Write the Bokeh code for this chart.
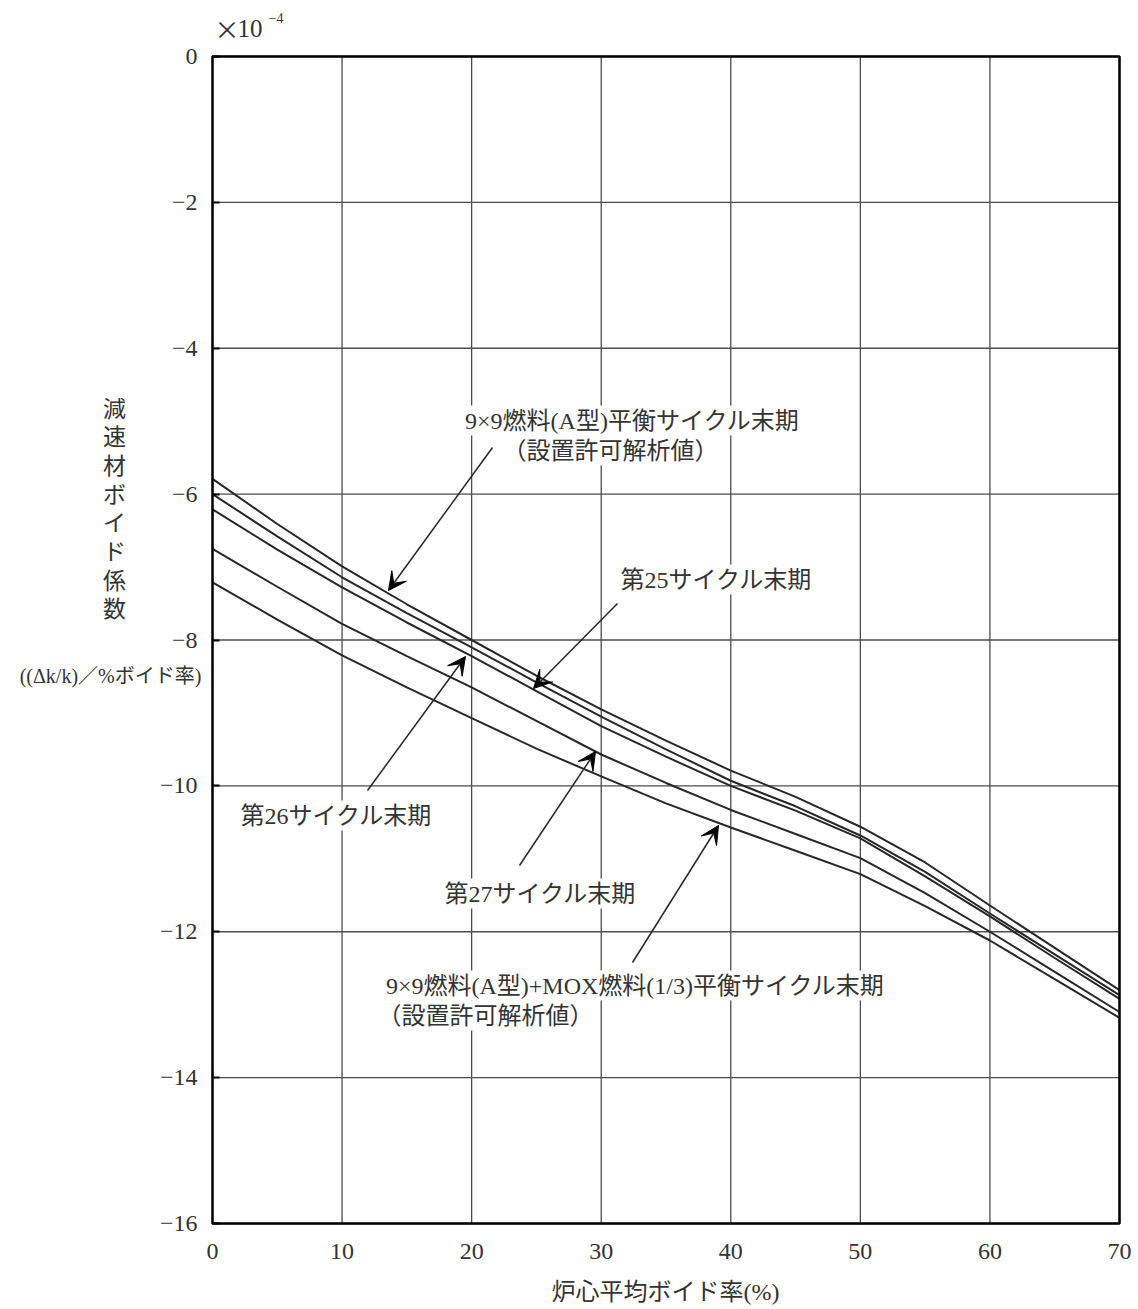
from bokeh.plotting import figure
from bokeh.models import Range1d, FixedTicker, Label, Arrow, VeeHead, LinearAxis
from bokeh.embed import file_html
from bokeh.resources import INLINE

# ---------------- data ----------------
void_pct = [0, 5, 10, 15, 20, 25, 30, 35, 40, 45, 50, 55, 60, 65, 70]
a_type_eq = [-5.79, -6.41, -6.99, -7.51, -8.00, -8.49, -8.95, -9.38, -9.79, -10.15, -10.56, -11.05, -11.64, -12.22, -12.80]
cycle25 = [-6.00, -6.58, -7.14, -7.63, -8.10, -8.58, -9.05, -9.50, -9.93, -10.28, -10.68, -11.18, -11.75, -12.31, -12.87]
cycle26 = [-6.21, -6.76, -7.28, -7.76, -8.22, -8.70, -9.18, -9.60, -10.00, -10.34, -10.72, -11.24, -11.79, -12.36, -12.92]
cycle27 = [-6.75, -7.27, -7.78, -8.22, -8.65, -9.11, -9.57, -9.96, -10.33, -10.66, -10.99, -11.47, -12.00, -12.55, -13.10]
mox_eq = [-7.21, -7.72, -8.21, -8.65, -9.07, -9.49, -9.87, -10.24, -10.57, -10.89, -11.21, -11.65, -12.12, -12.65, -13.18]
x_ticks = [0, 10, 20, 30, 40, 50, 60, 70]
y_ticks = [0, -2, -4, -6, -8, -10, -12, -14, -16]
y_tick_labels = ["0", "\u22122", "\u22124", "\u22126", "\u22128", "\u221210", "\u221212", "\u221214", "\u221216"]

SERIF = "Liberation Serif"
JP = "Noto Sans CJK JP"
MIX = "Liberation Serif, Noto Sans CJK JP"
TXT = "#333333"

# pixel geometry of the plotting box in the reference picture
PX_L, PX_R, PX_T, PX_B = 212, 1119, 56, 1223
W, H = 1138, 1309
x0, x1 = min(x_ticks), max(x_ticks)
y0, y1 = min(y_ticks), max(y_ticks)
sx = (PX_R - PX_L) / (x1 - x0)
sy = (PX_B - PX_T) / (y1 - y0)

def fx(px):
    return x0 + (px - PX_L) / sx

def fy(py):
    return y1 - (py - PX_T) / sy

p = figure(width=W, height=H, output_backend="svg", toolbar_location=None,
           x_range=Range1d(fx(0), fx(W)), y_range=Range1d(fy(H), fy(0)),
           x_axis_type=None, y_axis_type=None, min_border=0)
p.outline_line_color = None
p.xgrid.visible = False
p.ygrid.visible = False

# grid lines from tick lists
p.segment(x0=x_ticks, x1=x_ticks, y0=[y0] * len(x_ticks), y1=[y1] * len(x_ticks),
          line_color="#4d4d4d", line_width=1.3)
p.segment(x0=[x0] * len(y_ticks), x1=[x1] * len(y_ticks), y0=y_ticks, y1=y_ticks,
          line_color="#4d4d4d", line_width=1.3)

# axes fixed to the plotting box
yax = LinearAxis(fixed_location=x0, bounds=(y0, y1), ticker=FixedTicker(ticks=y_ticks))
xax = LinearAxis(fixed_location=y0, bounds=(x0, x1), ticker=FixedTicker(ticks=x_ticks))
for ax in (xax, yax):
    ax.axis_line_color = None
    ax.major_tick_out = 0
    ax.minor_tick_out = 0
    ax.minor_tick_in = 0
    ax.major_label_text_font = SERIF
    ax.major_label_text_font_size = "24px"
    ax.major_label_text_color = TXT
yax.major_tick_in = 7
yax.major_tick_line_color = "black"
yax.major_tick_line_width = 2
xax.major_tick_in = 0
yax.major_label_overrides = dict(zip(y_ticks, y_tick_labels))
yax.major_label_standoff = 15
xax.major_label_standoff = 20
p.add_layout(yax, "left")
p.add_layout(xax, "below")

# curves
for ys in [a_type_eq, cycle25, cycle26, cycle27, mox_eq]:
    p.line(void_pct, ys, line_color="#262626", line_width=2)

# frame
p.quad(left=[x0], right=[x1], bottom=[y0], top=[y1], fill_color=None,
       line_color="black", line_width=2.5)

# ---------------- annotations ----------------
def lab(text, cx, cy, size="24px", font=MIX, bg=True, align="center"):
    l = Label(x=fx(cx), y=fy(cy), text=text, text_font=font, text_font_size=size,
              text_color=TXT, text_align=align, text_baseline="middle")
    if bg:
        l.background_fill_color = "white"
        l.padding = 2
    p.add_layout(l)

lab("9×9燃料(A型)平衡サイクル末期", 632, 420)
lab("（設置許可解析値）", 610, 450)
lab("第25サイクル末期", 716, 579)
lab("第26サイクル末期", 336, 815)
lab("第27サイクル末期", 540, 893)
lab("9×9燃料(A型)+MOX燃料(1/3)平衡サイクル末期", 635, 985)
lab("（設置許可解析値）", 485, 1015)

for i, ch in enumerate("減速材ボイド係数"):
    lab(ch, 114, 406 + i * 28.7, size="23px", font=JP, bg=False)
lab("((Δk/k)／%ボイド率)", 110, 675, size="20px", bg=False)
lab("×", 214, 27, size="25px", font=JP, bg=False, align="left")
lab("10", 237, 28, size="25px", font=SERIF, bg=False, align="left")
lab("\u22124", 268, 17, size="14px", font=SERIF, bg=False, align="left")
lab("炉心平均ボイド率(%)", 665, 1291, size="24px", bg=False)

arrows = [((492, 447), (388, 590)), ((617, 603), (533, 688)), ((367, 790), (465, 656)),
          ((519, 865), (595, 751)), ((632, 962), (718, 825))]
for (sxp, syp), (exp_, eyp) in arrows:
    p.add_layout(Arrow(x_start=fx(sxp), y_start=fy(syp), x_end=fx(exp_), y_end=fy(eyp),
                       line_color="#262626", line_width=1.5,
                       end=VeeHead(size=18, fill_color="black", line_color="black")))

open("out.html", "w").write(file_html(p, INLINE))
